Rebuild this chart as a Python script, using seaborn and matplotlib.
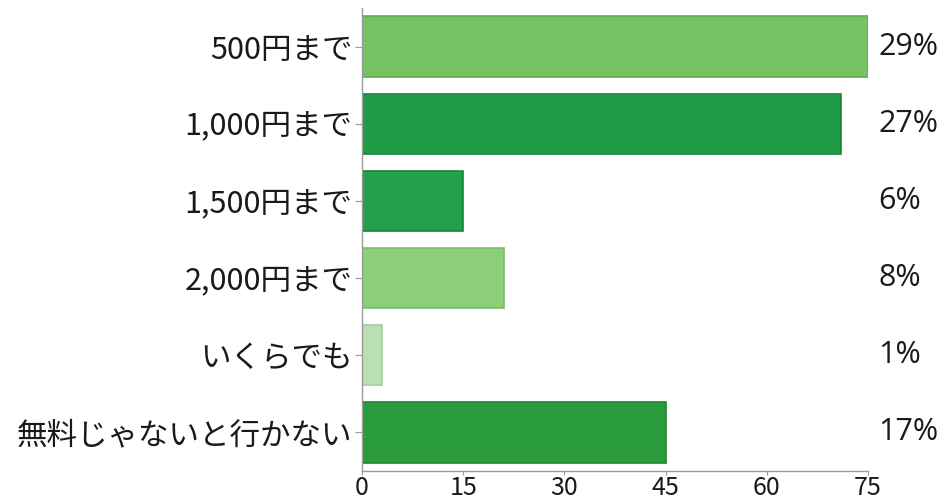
import matplotlib
matplotlib.use("Agg")
import matplotlib.pyplot as plt
import matplotlib.transforms as mtransforms
import seaborn as sns
import pandas as pd

categories = ["500円まで", "1,000円まで", "1,500円まで", "2,000円まで", "いくらでも", "無料じゃないと行かない"]
counts = [75, 71, 15, 21, 3, 45]
percent_labels = ["29%", "27%", "6%", "8%", "1%", "17%"]
bar_colors = ["#74c262", "#1f9c45", "#23a04a", "#8ccf79", "#b9dfb2", "#2a9b3c"]
edge_colors = ["#5fae50", "#17853a", "#17853a", "#7abd69", "#a3cf9c", "#1f8531"]
xticks = [0, 15, 30, 45, 60, 75]

sns.set_style("white")
plt.rcParams["font.family"] = ["Noto Sans CJK JP", "DejaVu Sans"]

df = pd.DataFrame({"category": categories, "count": counts})

fig = plt.figure(figsize=(9.41, 5.03), dpi=100)
ax = fig.add_axes([0.3847, 0.0636, 0.5377, 0.9205])

sns.barplot(data=df, x="count", y="category", hue="category",
            palette=bar_colors, saturation=1, legend=False, width=0.78, ax=ax)
for patch, ec in zip(ax.patches, edge_colors):
    patch.set_edgecolor(ec)
    patch.set_linewidth(1.2)

ax.set_xlim(0, 75)
ax.set_xticks(xticks)
ax.set_xlabel("")
ax.set_ylabel("")

sns.despine(ax=ax, top=True, right=True)
for side in ["left", "bottom"]:
    ax.spines[side].set_color("#9a9a9a")
    ax.spines[side].set_linewidth(1)

ax.tick_params(axis="y", length=5, color="#9a9a9a", labelsize=22, pad=2, left=True)
ax.tick_params(axis="x", length=3, color="#9a9a9a", labelsize=18, pad=0, bottom=True)
for lab in ax.get_yticklabels() + ax.get_xticklabels():
    lab.set_color("#1a1a1a")

trans = mtransforms.blended_transform_factory(ax.transAxes, ax.transData)
for i, txt in enumerate(percent_labels):
    ax.text(1.02, i, txt, transform=trans, ha="left", va="center",
            fontsize=22, family=["Open Sans", "DejaVu Sans"], color="#1a1a1a")

fig.savefig("out.png", dpi=100, facecolor="white")
